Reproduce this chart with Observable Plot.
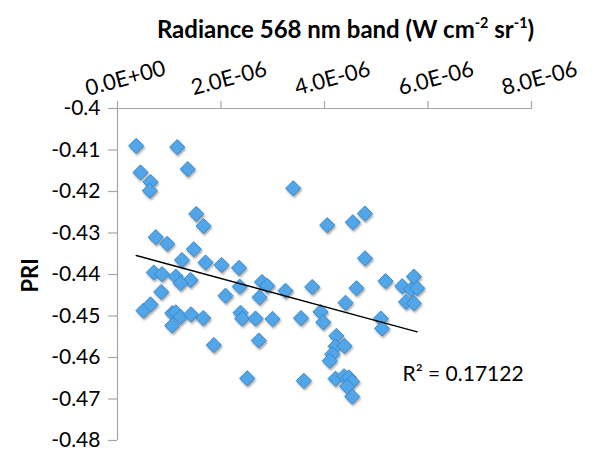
<!DOCTYPE html>
<html><head><meta charset="utf-8">
<script src="https://cdn.jsdelivr.net/npm/d3@7"></script>
<script src="https://cdn.jsdelivr.net/npm/@observablehq/plot@0.6"></script>
<style>
html,body{margin:0;padding:0;background:#fff;}
#title{box-sizing:border-box;width:603px;height:50px;padding-top:15px;padding-left:88px;text-align:center;
  font-family:Lato,"Open Sans",sans-serif;font-weight:bold;font-size:24px;line-height:28px;color:#000;}
#title sup{font-size:0.6em;line-height:0;vertical-align:0.7em;}
</style></head><body>
<div id="title">Radiance 568 nm band (W cm<sup>-2</sup> sr<sup>-1</sup>)</div>
<div id="chart"></div>
<script>
// Radiance values in units of 1e-6 W cm-2 sr-1
const radianceE6 = [0.361,1.154,0.444,1.358,0.638,0.624,1.521,1.662,0.740,0.960,1.474,1.246,1.700,2.010,2.348,0.701,0.860,1.127,1.411,1.217,
  2.361,2.792,2.893,0.844,2.087,2.744,0.502,0.638,1.057,1.127,1.217,1.057,1.420,1.656,2.377,2.410,2.667,2.995,2.730,1.861,2.506,
  3.395,4.052,4.547,4.779,4.783,5.179,5.501,5.726,5.671,5.791,3.762,3.246,4.618,4.406,5.575,5.726,3.546,3.923,3.975,5.088,5.111,
  4.228,4.213,4.386,4.149,4.100,3.600,4.213,4.377,4.470,4.535,4.439,4.535];
const pri = [-0.4090,-0.4093,-0.4154,-0.4146,-0.4177,-0.4198,-0.4254,-0.4283,-0.4310,-0.4326,-0.4339,-0.4365,-0.4371,-0.4377,-0.4384,-0.4395,-0.4399,-0.4405,-0.4413,-0.4421,
  -0.4429,-0.4418,-0.4427,-0.4442,-0.4451,-0.4455,-0.4487,-0.4472,-0.4493,-0.4491,-0.4502,-0.4523,-0.4496,-0.4505,-0.4492,-0.4506,-0.4506,-0.4507,-0.4559,-0.4570,-0.4650,
  -0.4192,-0.4281,-0.4274,-0.4253,-0.4361,-0.4416,-0.4428,-0.4405,-0.4436,-0.4433,-0.4430,-0.4439,-0.4433,-0.4468,-0.4466,-0.4469,-0.4505,-0.4490,-0.4515,-0.4506,-0.4530,
  -0.4548,-0.4573,-0.4572,-0.4592,-0.4608,-0.4656,-0.4651,-0.4645,-0.4648,-0.4658,-0.4670,-0.4694];
const xTicks = [0, 2e-6, 4e-6, 6e-6, 8e-6];
const xTickLabels = ["0.0E+00","2.0E-06","4.0E-06","6.0E-06","8.0E-06"];
const yTicks = [-0.4,-0.41,-0.42,-0.43,-0.44,-0.45,-0.46,-0.47,-0.48];
const yTickLabels = ["-0.4","-0.41","-0.42","-0.43","-0.44","-0.45","-0.46","-0.47","-0.48"];
const yAxisTitle = "PRI";
const r2Text = "R\u00B2 = 0.17122";

const data = radianceE6.map((v, i) => ({x: v * 1e-6, y: pri[i]}));
const xDomain = [0, 8e-6], yDomain = [-0.48, -0.4];
const axisGray = "#a6a6a6";
const font = "Lato, 'Open Sans', sans-serif";

const chart = Plot.plot({
  width: 603, height: 404,
  marginLeft: 117, marginRight: 72, marginTop: 58, marginBottom: 14,
  style: {fontFamily: font, fontSize: "21px", background: "#fff", color: "#000"},
  x: {domain: xDomain, axis: null, label: null},
  y: {domain: yDomain, axis: null, label: null},
  marks: [
    Plot.ruleX([xDomain[0]], {stroke: axisGray, strokeWidth: 1.2}),
    Plot.ruleY([yDomain[1]], {stroke: axisGray, strokeWidth: 1.2}),
    Plot.axisY({ticks: yTicks, text: null, tickSize: 9, stroke: axisGray, strokeWidth: 1.2}),
    Plot.axisY({ticks: yTicks, tickSize: 0, tickPadding: 17, tickFormat: (d, i) => yTickLabels[i], fontSize: 21, fill: "#000"}),
    Plot.axisX({anchor: "top", ticks: xTicks, text: null, tickSize: 8, stroke: axisGray, strokeWidth: 1.2}),
    Plot.axisX({anchor: "top", ticks: xTicks, tickSize: 0, tickPadding: 30, tickRotate: -15, textAnchor: "middle", dx: 8,
      tickFormat: (d, i) => xTickLabels[i], fontSize: 22, fill: "#000"}),
    Plot.dot(data, {x: "x", y: "y", symbol: "diamond2", r: 6.8, fill: "#52a5e6", stroke: "#3289d2", strokeWidth: 1}),
    Plot.linearRegressionY(data, {x: "x", y: "y", stroke: "#000", strokeWidth: 1.4, ci: 0}),
    Plot.text([yAxisTitle], {frameAnchor: "left", rotate: -90, dx: -87, dy: 18, fontWeight: "bold", fontSize: 22, fill: "#000"}),
    Plot.text([r2Text], {frameAnchor: "bottom-right", textAnchor: "start", dx: -129, dy: -60, fontSize: 21, fill: "#000"})
  ]
});
document.getElementById("chart").appendChild(chart);
const dots = chart.querySelector('g[aria-label="dot"]');
if (dots) dots.style.filter = "drop-shadow(1px 2px 1.2px rgba(0,0,0,0.35))";
</script>
</body></html>
